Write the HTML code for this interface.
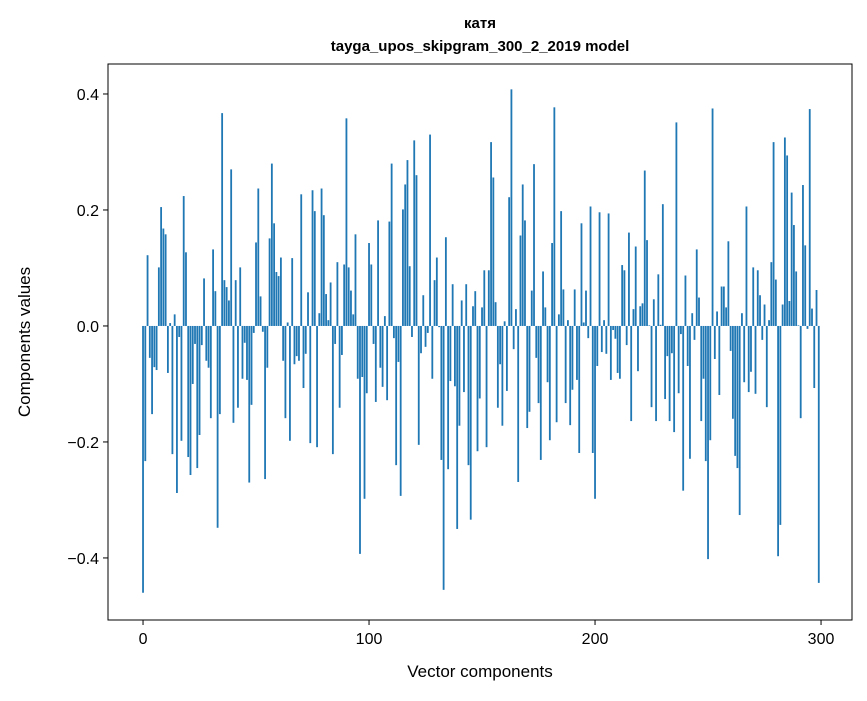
<!DOCTYPE html>
<html><head><meta charset="utf-8"><style>
body{margin:0;background:#fff;}
svg text{font-family:"Liberation Sans","DejaVu Sans",sans-serif;fill:#000;}
</style></head><body>
<svg id="chart" width="867" height="696" xmlns="http://www.w3.org/2000/svg">
<rect width="867" height="696" fill="#fff"/>
<text x="480" y="28" font-size="15" font-weight="bold" text-anchor="middle">катя</text>
<text x="480" y="51" font-size="15" font-weight="bold" text-anchor="middle">tayga_upos_skipgram_300_2_2019 model</text>
<g id="bars"></g>
<g id="axes"></g>
<text x="480" y="677" font-size="17" text-anchor="middle">Vector components</text>
<text transform="translate(30,342) rotate(-90)" font-size="17" text-anchor="middle">Components values</text>
</svg>
<script>
const values = [-0.46,-0.233,0.122,-0.055,-0.152,-0.071,-0.076,0.101,0.205,0.168,0.158,-0.081,0.005,-0.221,0.02,-0.288,-0.019,-0.198,0.224,0.127,-0.226,-0.257,-0.1,-0.031,-0.245,-0.188,-0.033,0.082,-0.06,-0.072,-0.159,0.132,0.06,-0.348,-0.152,0.367,0.079,0.067,0.044,0.27,-0.167,0.079,-0.141,0.101,-0.091,-0.029,-0.093,-0.27,-0.136,-0.012,
0.144,0.237,0.051,-0.01,-0.264,-0.072,0.151,0.28,0.177,0.093,0.086,0.118,-0.06,-0.159,0.006,-0.198,0.117,-0.066,-0.052,-0.06,0.227,-0.107,-0.048,0.058,-0.202,0.234,0.198,-0.209,0.022,0.237,0.191,0.055,0.01,0.075,-0.221,-0.031,0.11,-0.141,-0.05,0.106,0.358,0.101,0.061,0.02,0.158,-0.091,-0.393,-0.088,-0.298,-0.116,
0.143,0.106,-0.031,-0.131,0.182,-0.072,-0.105,0.017,-0.128,0.18,0.28,-0.021,-0.24,-0.062,-0.293,0.201,0.244,0.286,0.103,-0.019,0.32,0.26,-0.205,-0.047,0.053,-0.036,-0.012,0.33,-0.091,0.079,0.118,-0.002,-0.231,-0.455,0.153,-0.247,-0.095,0.072,-0.104,-0.35,-0.172,0.044,-0.114,0.072,-0.24,-0.334,0.034,0.06,-0.216,-0.125,
0.032,0.096,-0.209,0.096,0.317,0.256,0.041,-0.141,-0.066,-0.172,0.008,-0.112,0.222,0.408,-0.04,0.029,-0.269,0.156,0.244,0.182,-0.176,-0.148,0.061,0.279,-0.055,-0.133,-0.231,0.094,0.032,-0.097,-0.197,0.143,0.377,-0.166,0.02,0.198,0.063,-0.133,0.01,-0.171,-0.11,0.063,-0.093,-0.219,0.177,0.006,0.061,-0.021,0.206,-0.219,
-0.298,-0.069,0.196,-0.045,0.01,-0.048,0.194,-0.093,-0.007,-0.022,-0.081,-0.091,0.105,0.096,-0.033,0.161,-0.164,0.029,0.137,-0.078,0.034,0.039,0.268,0.148,0.001,-0.14,0.046,-0.164,0.089,0.002,0.21,-0.126,-0.052,-0.164,-0.047,-0.183,0.351,-0.116,-0.014,-0.284,0.087,-0.069,-0.229,0.022,-0.024,0.132,0.049,-0.164,-0.091,-0.233,
-0.402,-0.197,0.375,-0.057,0.025,-0.119,0.068,0.068,0.032,0.146,-0.043,-0.16,-0.224,-0.245,-0.326,0.022,-0.097,0.206,-0.114,-0.079,0.101,-0.117,0.096,0.053,-0.024,0.037,-0.14,0.01,0.11,0.317,0.08,-0.397,-0.343,0.037,0.325,0.294,0.043,0.23,0.174,0.094,0.001,-0.159,0.243,0.139,-0.005,0.374,0.03,-0.107,0.062,-0.443];
const xTicks = [0,100,200,300];
const yTicks = [-0.4,-0.2,0.0,0.2,0.4];
const yTickLabels = ["\u22120.4","\u22120.2","0.0","0.2","0.4"];
const xTickLabels = ["0","100","200","300"];

const L=108,R=852,T=64,B=620;
const xMin=-15.5,xMax=313.7,yMin=-0.507,yMax=0.4517;
const xs=v=>L+(v-xMin)/(xMax-xMin)*(R-L);
const ys=v=>B-(v-yMin)/(yMax-yMin)*(B-T);
const NS="http://www.w3.org/2000/svg";
const bars=document.getElementById('bars');
values.forEach((v,i)=>{
  const r=document.createElementNS(NS,'rect');
  const x0=xs(i-0.4),x1=xs(i+0.4);
  const y0=ys(Math.max(v,0)),y1=ys(Math.min(v,0));
  r.setAttribute('x',x0);r.setAttribute('width',x1-x0);
  r.setAttribute('y',y0);r.setAttribute('height',Math.max(y1-y0,0.3));
  r.setAttribute('fill','#1f77b4');
  
  
  bars.appendChild(r);
});
const ax=document.getElementById('axes');
let h='<rect x="'+L+'" y="'+T+'" width="'+(R-L)+'" height="'+(B-T)+'" fill="none" stroke="#000" stroke-width="1"/>';
ax.innerHTML=h;
xTicks.forEach((t,i)=>{
  const x=xs(t);
  const l=document.createElementNS(NS,'line');
  l.setAttribute('x1',x);l.setAttribute('x2',x);l.setAttribute('y1',B);l.setAttribute('y2',B+5);l.setAttribute('stroke','#000');
  
  
  ax.appendChild(l);
  const tx=document.createElementNS(NS,'text');
  tx.setAttribute('x',x);tx.setAttribute('y',B+24);tx.setAttribute('font-size','16');tx.setAttribute('text-anchor','middle');
  tx.textContent=xTickLabels[i];
  
  
  ax.appendChild(tx);
});
yTicks.forEach((t,i)=>{
  const y=ys(t);
  const l=document.createElementNS(NS,'line');
  l.setAttribute('x1',L-5);l.setAttribute('x2',L);l.setAttribute('y1',y);l.setAttribute('y2',y);l.setAttribute('stroke','#000');
  
  
  ax.appendChild(l);
  const tx=document.createElementNS(NS,'text');
  tx.setAttribute('x',L-9);tx.setAttribute('y',y+6);tx.setAttribute('font-size','16');tx.setAttribute('text-anchor','end');
  tx.textContent=yTickLabels[i];
  
  
  ax.appendChild(tx);
});
</script>
</body></html>
